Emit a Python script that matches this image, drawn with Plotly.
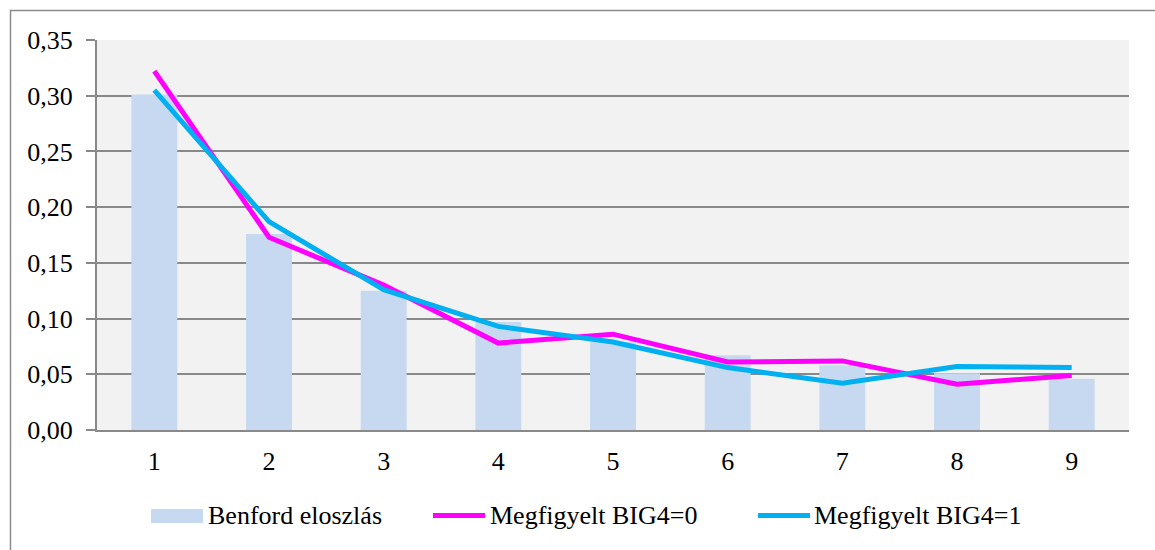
import plotly.graph_objects as go

# First-digit categories
digits = ["1", "2", "3", "4", "5", "6", "7", "8", "9"]

# Expected Benford shares per first digit
benford = [0.301, 0.176, 0.125, 0.097, 0.079, 0.067, 0.058, 0.051, 0.046]

# Observed first-digit shares, non-Big4 and Big4 audited firms
observed_big4_0 = [0.322, 0.173, 0.130, 0.078, 0.086, 0.061, 0.062, 0.041, 0.049]
observed_big4_1 = [0.305, 0.187, 0.126, 0.093, 0.079, 0.056, 0.042, 0.057, 0.056]

series_names = ["Benford eloszlás", "Megfigyelt BIG4=0", "Megfigyelt BIG4=1"]

BAR_COLOR = "#c6d9f0"
MAGENTA = "#ff00ff"
CYAN = "#00b0f0"
GRID = "#898989"
FONT = "'Times New Roman', 'Liberation Serif', serif"
FSIZE = 26

W, H = 1155, 550
L, R, T, B = 97, 26, 40, 120
PW, PH = W - L - R, H - T - B


def px(x):
    return (x - L) / PW


def py(y):
    return (H - B - y) / PH


fig = go.Figure()
fig.add_trace(go.Bar(x=digits, y=benford, name=series_names[0],
                     marker=dict(color=BAR_COLOR, line=dict(width=0)),
                     width=0.4))
fig.add_trace(go.Scatter(x=digits, y=observed_big4_0, name=series_names[1],
                         mode="lines", line=dict(color=MAGENTA, width=5)))
fig.add_trace(go.Scatter(x=digits, y=observed_big4_1, name=series_names[2],
                         mode="lines", line=dict(color=CYAN, width=5)))

shapes = [
    # outer chart frame (top and left edges visible)
    dict(type="rect", xref="paper", yref="paper",
         x0=px(10.5), x1=px(1200), y0=py(700), y1=py(10.5),
         line=dict(color="#8c8c8c", width=1.5), fillcolor="rgba(0,0,0,0)",
         layer="below"),
    # legend swatches
    dict(type="rect", xref="paper", yref="paper",
         x0=px(151), x1=px(203), y0=py(523), y1=py(509),
         fillcolor=BAR_COLOR, line=dict(width=0)),
    dict(type="line", xref="paper", yref="paper",
         x0=px(433), x1=px(485), y0=py(515.5), y1=py(515.5),
         line=dict(color=MAGENTA, width=5)),
    dict(type="line", xref="paper", yref="paper",
         x0=px(758), x1=px(810), y0=py(515.5), y1=py(515.5),
         line=dict(color=CYAN, width=5)),
]

annotations = []
for name, x0 in zip(series_names, [206, 488, 812]):
    annotations.append(dict(text=name, xref="paper", yref="paper",
                            x=px(x0), y=py(515), xanchor="left", yanchor="middle",
                            showarrow=False,
                            font=dict(family=FONT, size=FSIZE, color="#000000")))

fig.update_layout(
    width=W, height=H,
    margin=dict(l=L, r=R, t=T, b=B),
    paper_bgcolor="#ffffff",
    plot_bgcolor="#f2f2f2",
    separators=", ",
    showlegend=False,
    bargap=0.6,
    font=dict(family=FONT, size=FSIZE, color="#000000"),
    shapes=shapes,
    annotations=annotations,
    xaxis=dict(type="category", showgrid=False, showline=True,
               linecolor=GRID, linewidth=2, ticks="",
               ticklabelstandoff=7,
               tickfont=dict(family=FONT, size=FSIZE)),
    yaxis=dict(range=[0, 0.35], dtick=0.05, tickformat=".2f",
               showgrid=True, gridcolor=GRID, gridwidth=2,
               showline=True, linecolor=GRID, linewidth=2,
               ticks="outside", ticklen=9, tickcolor=GRID, tickwidth=2,
               ticklabelstandoff=8, zeroline=False,
               tickfont=dict(family=FONT, size=FSIZE)),
)

fig.write_html("out.html")
